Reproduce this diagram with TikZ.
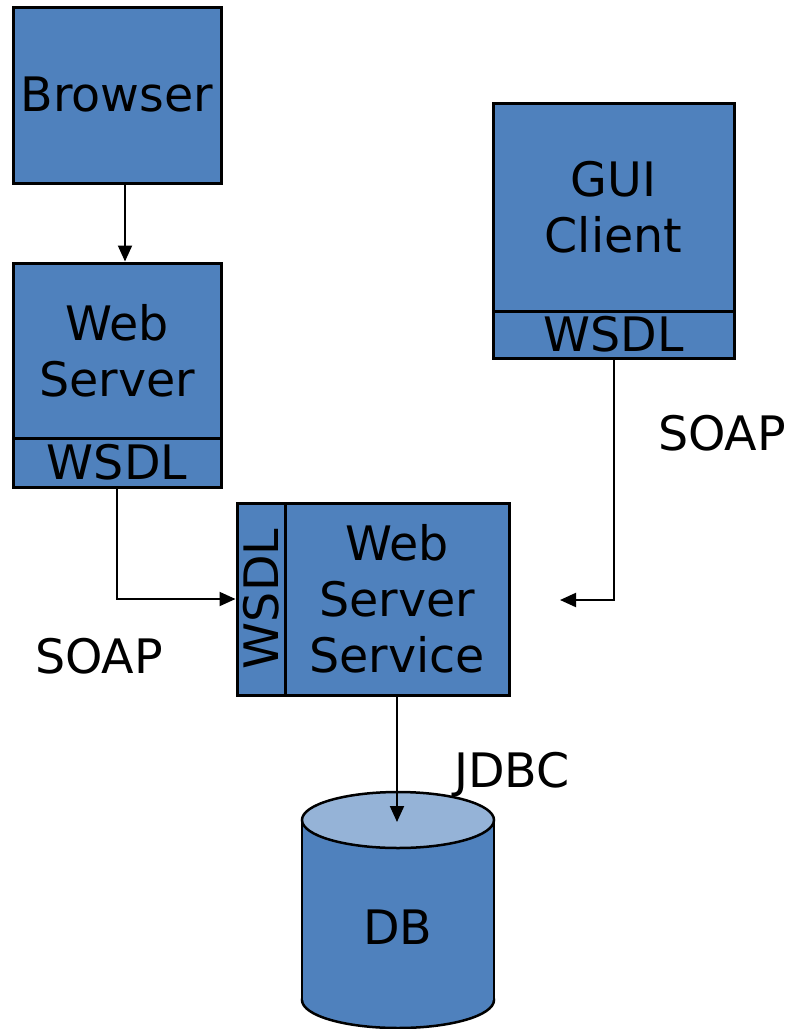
\documentclass[tikz,border=0pt]{standalone}
\usepackage{fontspec}
\setmainfont{DejaVu Sans}
\usetikzlibrary{arrows.meta}
\definecolor{boxblue}{HTML}{4F81BD}
\definecolor{topblue}{HTML}{95B3D7}
\begin{document}
\begin{tikzpicture}[x=1pt,y=-1pt,
  box/.style={draw=black, line width=3pt, fill=boxblue, inner sep=0pt, align=center, font=\fontsize{47.5}{56}\selectfont},
  conn/.style={line width=2pt, -{Triangle[length=16pt,width=14pt]}},
  lbl/.style={font=\fontsize{47.5}{56}\selectfont, inner sep=0pt, anchor=base}]
\useasboundingbox (0,0) rectangle (793,1029);
% boxes
\node[box, minimum width=208pt, minimum height=176pt] (browser) at (117,95) {Browser};
\node[box, minimum width=208pt, minimum height=175pt] (ws) at (117,350.5) {Web\\Server};
\node[box, minimum width=208pt, minimum height=49pt] (wswsdl) at (117,462.5) {WSDL};
\node[box, minimum width=241pt, minimum height=208pt] (gui) at (613.5,207) {GUI\\Client};
\node[box, minimum width=241pt, minimum height=47pt] (guiwsdl) at (613.5,334.5) {WSDL};
\node[box, minimum width=224pt, minimum height=192pt] (wss) at (397,599) {Web\\Server\\Service};
\node[box, rotate=90, minimum width=192pt, minimum height=48pt] (wsswsdl) at (261,599) {WSDL};
% database cylinder
\node[inner sep=0pt, minimum width=192pt, minimum height=236pt] (dbshape) at (398,910) {};
\draw[line width=2.5pt, fill=boxblue] (398,1000) ellipse [x radius=96, y radius=28];
\fill[boxblue] (302,820) rectangle (494,1000);
\draw[line width=2.5pt] (302,820) -- (302,1000) (494,820) -- (494,1000);
\draw[line width=2.5pt, fill=topblue] (398,820) ellipse [x radius=96, y radius=28];
\node[lbl, anchor=center] (db) at (398,927) {DB};
\coordinate (dbtop) at (397,822);
% connectors
\coordinate (guiend) at (560,600);
\draw[conn] ([xshift=8pt]browser.south) -- ([xshift=8pt]ws.north);
\draw[conn] (wswsdl.south) |- (wsswsdl.north);
\draw[conn] (guiwsdl.south) |- (guiend);
\draw[conn] (wss.south) -- (dbtop);
% labels
\node[lbl] (soapr) at (722,450) {SOAP};
\node[lbl] (soapl) at (99,673) {SOAP};
\node[lbl] (jdbc) at (512,787) {JDBC};
\end{tikzpicture}
\end{document}
